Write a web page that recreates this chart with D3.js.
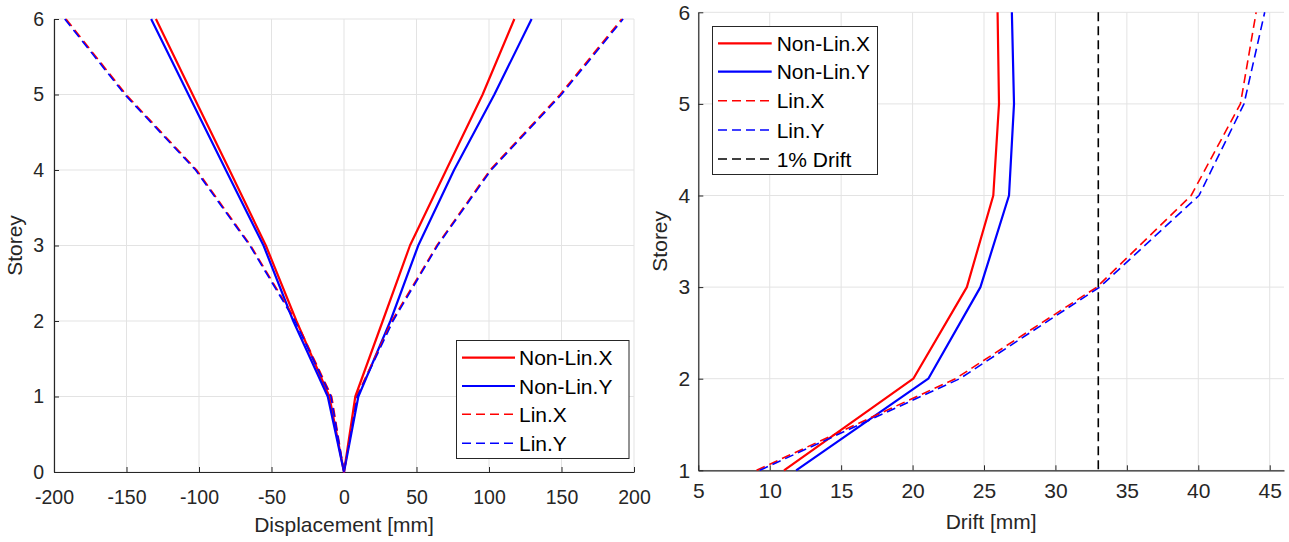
<!DOCTYPE html>
<html>
<head>
<meta charset="utf-8">
<script src="https://cdn.jsdelivr.net/npm/d3@7"></script>
<style>
  html, body { margin: 0; padding: 0; background: #ffffff; }
  svg { display: block; font-family: "Liberation Sans", Arial, Helvetica, sans-serif; }
</style>
</head>
<body>
<svg id="chart" width="1289" height="542"></svg>
<script>
// ---------- DATA ----------
// Left panel: displacement envelope per storey
const storeysLeft = [0, 1, 2, 3, 4, 5, 6];
const nonLinXPos = [0, 7.8, 26.7, 45.5, 70.5, 95.6, 117.5];
const nonLinXNeg = [0, -10.1, -32.8, -53.9, -79.0, -104.4, -129.7];
const nonLinYPos = [0, 9.9, 32.0, 51.2, 75.9, 103.7, 129.4];
const nonLinYNeg = [0, -11.2, -35.0, -55.5, -81.5, -107.3, -133.0];
const linXPos = [0, 8.7, 33.0, 64.0, 100.7, 149.0, 191.5];
const linXNeg = [0, -8.5, -33.0, -64.4, -101.6, -150.3, -191.7];
const linYPos = [0, 9.2, 33.8, 64.6, 101.5, 150.0, 192.5];
const linYNeg = [0, -9.0, -33.8, -65.0, -102.4, -151.2, -192.6];
const leftXTicks = [-200, -150, -100, -50, 0, 50, 100, 150, 200];
const leftYTicks = [0, 1, 2, 3, 4, 5, 6];

// Right panel: inter-storey drift
const storeysRight = [1, 2, 3, 4, 5, 6];
const driftNonLinX = [11.0, 20.05, 23.8, 25.65, 26.05, 25.95];
const driftNonLinY = [11.85, 21.1, 24.75, 26.75, 27.1, 26.95];
const driftLinX = [9.08, 23.0, 32.9, 39.5, 42.95, 44.05];
const driftLinY = [9.3, 23.3, 33.1, 40.05, 43.2, 44.65];
const driftLimit = 33;
const rightXTicks = [5, 10, 15, 20, 25, 30, 35, 40, 45];
const rightYTicks = [1, 2, 3, 4, 5, 6];

const seriesNames = ["Non-Lin.X", "Non-Lin.Y", "Lin.X", "Lin.Y"];
const limitName = "1% Drift";

// ---------- STYLE ----------
const RED = "#ff0000", BLUE = "#0000ff", BLACK = "#000000";
const AXIS = "#262626", GRID = "#e3e3e3";
const DASH = "9,5";
const styles = [
  { color: RED, dash: null, width: 2.2 },
  { color: BLUE, dash: null, width: 2.2 },
  { color: RED, dash: DASH, width: 1.6 },
  { color: BLUE, dash: DASH, width: 1.6 }
];
const limitStyle = { color: BLACK, dash: DASH, width: 1.6 };
const fmt = d => String(d);

const svg = d3.select("#chart");

function drawAxes(g, x, y, xTicks, yTicks, xLabel, yLabel, opts) {
  const [x0, x1] = x.range();
  const [y0, y1] = y.range();
  // grid
  g.append("g").selectAll("line").data(xTicks).join("line")
    .attr("x1", d => x(d)).attr("x2", d => x(d))
    .attr("y1", y0).attr("y2", y1)
    .attr("stroke", GRID).attr("stroke-width", 1);
  g.append("g").selectAll("line").data(yTicks).join("line")
    .attr("x1", x0).attr("x2", x1)
    .attr("y1", d => y(d)).attr("y2", d => y(d))
    .attr("stroke", GRID).attr("stroke-width", 1);

  const xAxis = g.append("g").attr("transform", `translate(0,${y0})`)
    .call(d3.axisBottom(x).tickValues(xTicks).tickFormat(fmt)
      .tickSizeInner(-5).tickSizeOuter(0).tickPadding(opts.xPad));
  const yAxis = g.append("g").attr("transform", `translate(${x0},0)`)
    .call(d3.axisLeft(y).tickValues(yTicks).tickFormat(fmt)
      .tickSizeInner(-5).tickSizeOuter(0).tickPadding(opts.yPad));
  [xAxis, yAxis].forEach(a => {
    a.select(".domain").attr("stroke", AXIS).attr("stroke-width", 1.2);
    a.selectAll(".tick line").attr("stroke", AXIS).attr("stroke-width", 1);
    a.selectAll(".tick text").attr("fill", AXIS)
      .style("font-size", opts.tickFont + "px")
      .style("font-family", '"Liberation Sans", Arial, sans-serif');
  });
  xAxis.selectAll(".tick text").attr("dy", "0.71em");

  g.append("text").attr("x", (x0 + x1) / 2).attr("y", opts.xLabelY)
    .attr("text-anchor", "middle").attr("fill", AXIS)
    .style("font-size", "21px").text(xLabel);
  g.append("text")
    .attr("transform", `translate(${opts.yLabelX},${(y0 + y1) / 2}) rotate(-90)`)
    .attr("text-anchor", "middle").attr("fill", AXIS)
    .style("font-size", "21px").text(yLabel);
}

function drawLegend(g, entries, box, rows, lineX0, lineX1, textX) {
  g.append("rect").attr("x", box.x).attr("y", box.y).attr("width", box.w).attr("height", box.h)
    .attr("fill", "#ffffff").attr("stroke", AXIS).attr("stroke-width", 1);
  entries.forEach((e, i) => {
    g.append("line").attr("x1", lineX0).attr("x2", lineX1)
      .attr("y1", rows[i]).attr("y2", rows[i])
      .attr("stroke", e.style.color).attr("stroke-width", e.style.width)
      .attr("stroke-dasharray", e.style.dash);
    g.append("text").attr("x", textX).attr("y", rows[i]).attr("dy", "0.36em")
      .attr("fill", "#000").style("font-size", "21px").text(e.name);
  });
}

// ---------- LEFT PANEL ----------
{
  const x = d3.scaleLinear().domain([-200, 200]).range([54, 634]);
  const y = d3.scaleLinear().domain([0, 6]).range([472, 19]);
  const g = svg.append("g");
  drawAxes(g, x, y, leftXTicks, leftYTicks, "Displacement [mm]", "Storey",
    { tickFont: 19.5, xPad: 18, yPad: 10, xLabelY: 532, yLabelX: 22 });

  const build = (neg, pos) => {
    const pts = [];
    for (let i = storeysLeft.length - 1; i >= 1; i--) pts.push([neg[i], storeysLeft[i]]);
    pts.push([pos[0], storeysLeft[0]]);
    for (let i = 1; i < storeysLeft.length; i++) pts.push([pos[i], storeysLeft[i]]);
    return pts;
  };
  const data = [
    build(nonLinXNeg, nonLinXPos),
    build(nonLinYNeg, nonLinYPos),
    build(linXNeg, linXPos),
    build(linYNeg, linYPos)
  ];
  const line = d3.line().x(d => x(d[0])).y(d => y(d[1]));
  data.forEach((pts, i) => {
    g.append("path").attr("d", line(pts)).attr("fill", "none")
      .attr("stroke", styles[i].color).attr("stroke-width", styles[i].width)
      .attr("stroke-dasharray", styles[i].dash).attr("stroke-linejoin", "round");
  });

  drawLegend(g, seriesNames.map((n, i) => ({ name: n, style: styles[i] })),
    { x: 456.5, y: 340.5, w: 172.5, h: 118 },
    [357.7, 386, 414.3, 443.3], 462, 515, 519);
}

// ---------- RIGHT PANEL ----------
{
  const x = d3.scaleLinear().domain([5, 46]).range([698.3, 1284]);
  const y = d3.scaleLinear().domain([1, 6]).range([470.3, 12.3]);
  const g = svg.append("g");
  drawAxes(g, x, y, rightXTicks, rightYTicks, "Drift [mm]", "Storey",
    { tickFont: 21, xPad: 13, yPad: 8, xLabelY: 529, yLabelX: 667 });

  const series = [driftNonLinX, driftNonLinY, driftLinX, driftLinY];
  const line = d3.line().x(d => x(d[0])).y(d => y(d[1]));
  series.forEach((vals, i) => {
    const pts = vals.map((v, k) => [v, storeysRight[k]]);
    g.append("path").attr("d", line(pts)).attr("fill", "none")
      .attr("stroke", styles[i].color).attr("stroke-width", styles[i].width)
      .attr("stroke-dasharray", styles[i].dash).attr("stroke-linejoin", "round");
  });
  g.append("line")
    .attr("x1", x(driftLimit)).attr("x2", x(driftLimit))
    .attr("y1", y(6)).attr("y2", y(1))
    .attr("stroke", limitStyle.color).attr("stroke-width", limitStyle.width)
    .attr("stroke-dasharray", limitStyle.dash);

  const entries = seriesNames.map((n, i) => ({ name: n, style: styles[i] }));
  entries.push({ name: limitName, style: limitStyle });
  drawLegend(g, entries, { x: 712.5, y: 26.5, w: 165, h: 148 },
    [43.3, 71.7, 100.7, 130, 159], 718, 771.7, 776.7);
}
</script>
</body>
</html>
